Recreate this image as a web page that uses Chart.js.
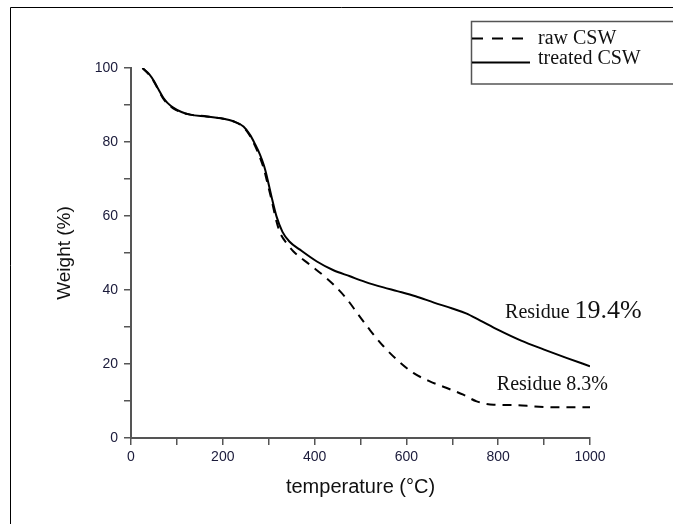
<!DOCTYPE html>
<html>
<head>
<meta charset="utf-8">
<script src="https://cdn.jsdelivr.net/npm/chart.js@4/dist/chart.umd.min.js"></script>
<style>
  html, body { margin: 0; padding: 0; background: #fff; }
</style>
</head>
<body>
<canvas id="tga" width="673" height="524"></canvas>
<script>
// raw CSW (dashed)
const rawTemp = [25, 40, 50, 60, 70, 80, 92, 110, 129, 165, 201, 223, 245, 259, 270, 281, 290, 296, 306, 317, 325, 340, 354, 390, 426, 445, 470, 495, 521, 550, 579, 615, 651, 688, 724, 753, 790, 840, 880, 930, 1000];
const rawWeight = [100, 98.1, 96.3, 94, 91.8, 90.3, 89.1, 88, 87.4, 86.9, 86.3, 85.6, 84, 81.7, 79, 75.8, 72.5, 69.5, 64.5, 58.5, 55.4, 52.5, 50.4, 46.8, 43.2, 41, 37.6, 33.4, 29.1, 24.8, 21.2, 17.6, 15.3, 13.5, 11.7, 9.9, 9.0, 8.9, 8.5, 8.3, 8.3];

// treated CSW (solid)
const treatedTemp = [25, 40, 50, 60, 70, 80, 92, 110, 129, 165, 201, 223, 245, 259, 270, 281, 290, 296, 306, 317, 330, 345, 368, 405, 440, 477, 510, 550, 580, 620, 660, 700, 730, 760, 800, 850, 900, 950, 1000];
const treatedWeight = [100, 98.3, 96.5, 94.2, 92, 90.5, 89.3, 88.1, 87.4, 86.9, 86.3, 85.6, 84.2, 82, 79.5, 76.6, 73.5, 70.7, 65.3, 59.9, 55.7, 53.1, 50.9, 47.7, 45.4, 43.7, 42.2, 40.7, 39.7, 38.3, 36.6, 35, 33.7, 31.8, 29.2, 26.3, 23.9, 21.6, 19.4];

const seriesNames = ["raw CSW", "treated CSW"];
const xTicks = [0, 200, 400, 600, 800, 1000];
const yTicks = [0, 20, 40, 60, 80, 100];

function pairs(xs, ys) {
  return xs.map((x, i) => ({ x: x, y: ys[i] }));
}

// frame, legend box and residue notes
const extras = {
  id: "extras",
  afterDraw(chart) {
    const ctx = chart.ctx;
    const xs = chart.scales.x, ys = chart.scales.y;
    ctx.save();

    // outer frame (top + left only)
    ctx.strokeStyle = "#000";
    ctx.lineWidth = 1;
    ctx.beginPath();
    ctx.moveTo(10.5, 524);
    ctx.lineTo(10.5, 7.5);
    ctx.lineTo(673, 7.5);
    ctx.stroke();

    // legend box
    ctx.strokeStyle = "#555";
    ctx.lineWidth = 1.5;
    ctx.strokeRect(471.5, 21.5, 215, 62.5);

    ctx.strokeStyle = "#000";
    ctx.lineWidth = 2;
    ctx.setLineDash([11, 9]);
    ctx.beginPath();
    ctx.moveTo(472, 38.5);
    ctx.lineTo(531, 38.5);
    ctx.stroke();
    ctx.setLineDash([]);
    ctx.beginPath();
    ctx.moveTo(472, 62.5);
    ctx.lineTo(530, 62.5);
    ctx.stroke();

    ctx.fillStyle = "#111";
    ctx.textBaseline = "alphabetic";
    ctx.textAlign = "left";
    ctx.font = "20px 'Liberation Serif', 'Times New Roman', serif";
    ctx.fillText(seriesNames[0], 538, 43.5);
    ctx.fillText(seriesNames[1], 538, 64);

    // residue notes
    const ax = xs.getPixelForValue(815), ay = ys.getPixelForValue(32.5);
    ctx.font = "20px 'Liberation Serif', 'Times New Roman', serif";
    ctx.fillText("Residue ", ax, ay);
    const w = ctx.measureText("Residue ").width;
    ctx.font = "26px 'Liberation Serif', 'Times New Roman', serif";
    ctx.fillText("19.4%", ax + w, ay);

    const bx = xs.getPixelForValue(797), by = ys.getPixelForValue(13.05);
    ctx.font = "20px 'Liberation Serif', 'Times New Roman', serif";
    ctx.fillText("Residue 8.3%", bx, by);

    ctx.restore();
  }
};

new Chart(document.getElementById("tga"), {
  type: "line",
  data: {
    datasets: [{
      label: seriesNames[1],
      data: pairs(treatedTemp, treatedWeight),
      borderColor: "#000",
      borderWidth: 2,
      pointRadius: 0,
      fill: false,
      cubicInterpolationMode: "monotone"
    }, {
      label: seriesNames[0],
      data: pairs(rawTemp, rawWeight),
      borderColor: "#000",
      borderWidth: 2,
      borderDash: [9, 7],
      pointRadius: 0,
      fill: false,
      cubicInterpolationMode: "monotone"
    }]
  },
  options: {
    responsive: false,
    animation: false,
    layout: { padding: { left: 53, top: 68, right: 83, bottom: 25 } },
    plugins: {
      legend: { display: false },
      tooltip: { enabled: false }
    },
    scales: {
      x: {
        type: "linear",
        min: 0,
        max: 1000,
        afterFit(scale) { scale.height = 61; },
        border: { display: true, color: "#555", width: 2 },
        grid: { drawOnChartArea: false, drawTicks: true, tickLength: 7, color: "#555", lineWidth: 1.5 },
        ticks: {
          stepSize: 100,
          padding: 4,
          maxRotation: 0,
          autoSkip: false,
          color: "#1a1a3a",
          font: { family: "'Liberation Sans', Arial, sans-serif", size: 14 },
          callback: (v) => xTicks.includes(v) ? String(v) : ""
        },
        title: {
          display: true,
          text: "temperature (°C)",
          color: "#111",
          padding: 0,
          font: { family: "'Liberation Sans', Arial, sans-serif", size: 20 }
        }
      },
      y: {
        min: 0,
        max: 100,
        afterFit(scale) { scale.width = 78; },
        border: { display: true, color: "#555", width: 2 },
        grid: { drawOnChartArea: false, drawTicks: true, tickLength: 7, color: "#555", lineWidth: 1.5 },
        ticks: {
          stepSize: 10,
          padding: 6,
          autoSkip: false,
          color: "#1a1a3a",
          font: { family: "'Liberation Sans', Arial, sans-serif", size: 14 },
          callback: (v) => yTicks.includes(v) ? String(v) : ""
        },
        title: {
          display: true,
          text: "Weight (%)",
          color: "#111",
          padding: 0,
          font: { family: "'Liberation Sans', Arial, sans-serif", size: 19 }
        }
      }
    }
  },
  plugins: [extras]
});
</script>
</body>
</html>
